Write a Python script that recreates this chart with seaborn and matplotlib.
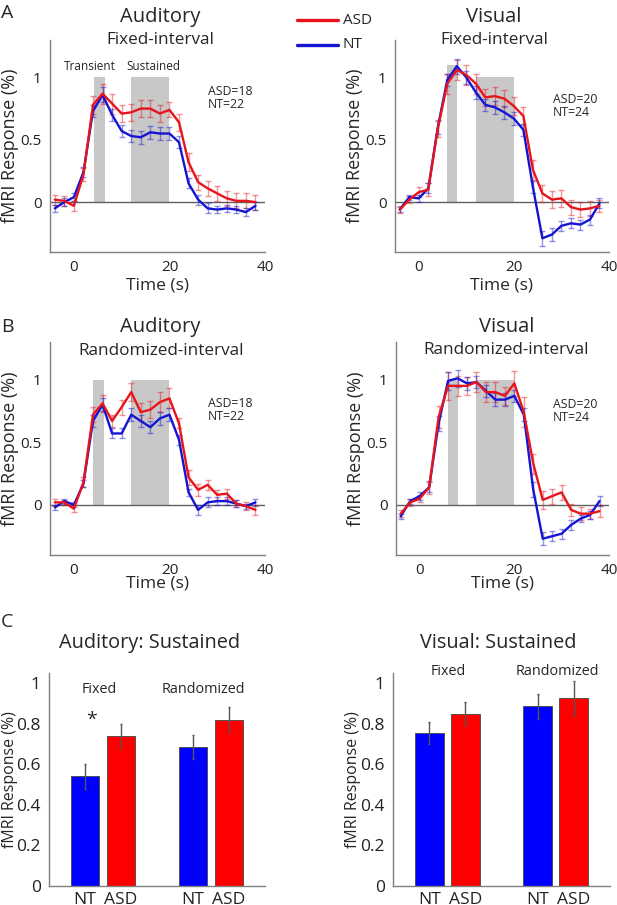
import numpy as np
import pandas as pd
import matplotlib
matplotlib.use("Agg")
import matplotlib.pyplot as plt
import seaborn as sns

# time axis (s)
time = [-4, -2, 0, 2, 4, 6, 8, 10, 12, 14, 16, 18, 20, 22, 24, 26, 28, 30, 32, 34, 36, 38]

# Auditory, fixed interval
aud_fix_asd = [0.02, 0.01, -0.03, 0.22, 0.78, 0.87, 0.79, 0.71, 0.72, 0.75, 0.75, 0.71, 0.74, 0.64, 0.32, 0.16, 0.11, 0.07, 0.03, 0.01, 0.01, 0.00]
aud_fix_nt = [-0.05, 0.00, 0.04, 0.24, 0.73, 0.86, 0.70, 0.57, 0.53, 0.52, 0.56, 0.55, 0.55, 0.48, 0.15, 0.02, -0.05, -0.06, -0.05, -0.06, -0.08, -0.03]
aud_fix_asd_se = [0.04, 0.04, 0.04, 0.05, 0.07, 0.08, 0.08, 0.07, 0.07, 0.07, 0.07, 0.07, 0.06, 0.07, 0.07, 0.06, 0.06, 0.06, 0.06, 0.06, 0.06, 0.06]
aud_fix_nt_se = [0.03, 0.03, 0.03, 0.04, 0.05, 0.06, 0.05, 0.05, 0.05, 0.05, 0.05, 0.05, 0.05, 0.05, 0.04, 0.04, 0.04, 0.03, 0.03, 0.03, 0.03, 0.03]

# Visual, fixed interval
vis_fix_asd = [-0.06, 0.02, 0.08, 0.10, 0.59, 0.95, 1.06, 1.02, 0.95, 0.84, 0.85, 0.83, 0.77, 0.69, 0.26, 0.07, 0.02, 0.03, -0.04, -0.06, -0.05, -0.03]
vis_fix_nt = [-0.06, 0.04, 0.03, 0.11, 0.60, 0.98, 1.09, 1.00, 0.88, 0.78, 0.76, 0.72, 0.67, 0.58, 0.12, -0.29, -0.26, -0.19, -0.17, -0.18, -0.14, -0.01]
vis_fix_asd_se = [0.03, 0.03, 0.04, 0.05, 0.07, 0.08, 0.08, 0.08, 0.08, 0.07, 0.07, 0.07, 0.07, 0.07, 0.08, 0.07, 0.07, 0.07, 0.06, 0.06, 0.06, 0.05]
vis_fix_nt_se = [0.02, 0.02, 0.03, 0.04, 0.05, 0.05, 0.06, 0.05, 0.05, 0.05, 0.05, 0.05, 0.05, 0.05, 0.05, 0.06, 0.05, 0.04, 0.04, 0.04, 0.04, 0.04]

# Auditory, randomized interval
aud_rnd_asd = [0.02, 0.02, -0.03, 0.18, 0.72, 0.81, 0.67, 0.78, 0.90, 0.74, 0.76, 0.82, 0.85, 0.65, 0.22, 0.12, 0.16, 0.08, 0.09, 0.01, -0.01, -0.04]
aud_rnd_nt = [-0.02, 0.03, 0.00, 0.17, 0.67, 0.80, 0.57, 0.57, 0.72, 0.67, 0.62, 0.69, 0.72, 0.52, 0.10, -0.04, 0.02, 0.03, 0.03, 0.01, -0.01, 0.02]
aud_rnd_asd_se = [0.03, 0.02, 0.03, 0.04, 0.06, 0.07, 0.05, 0.06, 0.07, 0.07, 0.07, 0.08, 0.08, 0.04, 0.06, 0.05, 0.04, 0.04, 0.04, 0.03, 0.03, 0.04]
aud_rnd_nt_se = [0.02, 0.02, 0.02, 0.03, 0.05, 0.05, 0.04, 0.04, 0.05, 0.05, 0.05, 0.05, 0.05, 0.04, 0.03, 0.04, 0.04, 0.03, 0.03, 0.03, 0.02, 0.03]

# Visual, randomized interval
vis_rnd_asd = [-0.07, 0.02, 0.05, 0.14, 0.70, 0.95, 0.95, 0.95, 0.98, 0.90, 0.90, 0.87, 0.97, 0.74, 0.33, 0.04, 0.07, 0.10, -0.04, -0.07, -0.07, -0.05]
vis_rnd_nt = [-0.09, 0.03, 0.07, 0.14, 0.65, 0.99, 1.01, 0.97, 0.98, 0.91, 0.84, 0.84, 0.87, 0.72, 0.12, -0.27, -0.25, -0.23, -0.16, -0.11, -0.08, 0.03]
vis_rnd_asd_se = [0.03, 0.03, 0.03, 0.05, 0.09, 0.11, 0.08, 0.07, 0.08, 0.08, 0.08, 0.07, 0.10, 0.12, 0.08, 0.07, 0.06, 0.06, 0.05, 0.05, 0.04, 0.05]
vis_rnd_nt_se = [0.02, 0.02, 0.03, 0.04, 0.06, 0.07, 0.07, 0.05, 0.05, 0.05, 0.05, 0.05, 0.05, 0.05, 0.06, 0.05, 0.04, 0.04, 0.04, 0.03, 0.03, 0.04]

# sustained-period bars (NT, ASD for fixed and randomized)
bar_group = ["NT", "ASD", "NT", "ASD"]
bar_pos = [1, 2, 4, 5]
aud_bar = [0.54, 0.74, 0.685, 0.82]
aud_bar_se = [0.06, 0.06, 0.06, 0.06]
vis_bar = [0.755, 0.85, 0.885, 0.925]
vis_bar_se = [0.055, 0.055, 0.06, 0.085]

RED = "#e8141b"
BLUE = "#1414d2"
W, H = 617, 905

sns.set_theme(style="white")
plt.rcParams["font.family"] = ["Open Sans", "DejaVu Sans"]

fig = plt.figure(figsize=(W / 100, H / 100), dpi=100)


def px_axes(left, top, right, bottom):
    return fig.add_axes([left / W, 1 - bottom / H, (right - left) / W, (bottom - top) / H])


def ftext(x, y, s, **kw):
    fig.text(x / W, 1 - y / H, s, **kw)


def style_axes(ax, tick_size):
    for side in ["top", "right"]:
        ax.spines[side].set_visible(False)
    for side in ["left", "bottom"]:
        ax.spines[side].set_color("#808080")
        ax.spines[side].set_linewidth(1.0)
    ax.tick_params(length=0, labelsize=tick_size, colors="#222222", pad=6)


def place_labels(ax, ylab_x, xlab_y):
    # label centres in pixels relative to the axes box
    bb = ax.get_position()
    ax.yaxis.label.set_verticalalignment("center")
    ax.yaxis.set_label_coords(ylab_x / (bb.width * W), 0.5)
    if xlab_y is not None:
        ax.xaxis.label.set_verticalalignment("center")
        ax.xaxis.set_label_coords(0.5, -xlab_y / (bb.height * H))


def timecourse(ax, asd, asd_se, nt, nt_se, trans, xlab_y):
    t0, t1, th = trans
    ax.fill_between([t0, t1], 0, th, color="#c8c8c8", lw=0, zorder=0)
    ax.fill_between([12, 20], 0, 1.0, color="#c8c8c8", lw=0, zorder=0)
    ax.axhline(0, color="#606060", lw=1.0, zorder=1)
    df = pd.DataFrame({"time": time * 2, "resp": asd + nt,
                       "group": ["ASD"] * len(time) + ["NT"] * len(time)})
    ax.errorbar(time, asd, yerr=asd_se, fmt="none", ecolor=RED, alpha=0.45,
                elinewidth=1, capsize=2, capthick=1, zorder=2)
    ax.errorbar(time, nt, yerr=nt_se, fmt="none", ecolor=BLUE, alpha=0.45,
                elinewidth=1, capsize=2, capthick=1, zorder=2)
    sns.lineplot(data=df, x="time", y="resp", hue="group", hue_order=["NT", "ASD"],
                 palette={"ASD": RED, "NT": BLUE}, lw=1.7, legend=False, ax=ax, zorder=3)
    ax.set_xlim(-5, 40)
    ax.set_ylim(-0.4, 1.3)
    ax.set_xticks([0, 20, 40])
    ax.set_yticks([0, 0.5, 1])
    ax.set_yticklabels(["0", "0.5", "1"])
    style_axes(ax, 11)
    ax.set_xlabel("Time (s)", fontsize=12.5)
    ax.set_ylabel("fMRI Response (%)", fontsize=13)
    place_labels(ax, -40, xlab_y)


def bars(ax, vals, ses, ylab_x):
    df = pd.DataFrame({"pos": bar_pos, "val": vals, "group": bar_group})
    sns.barplot(data=df, x="pos", y="val", hue="group", palette={"ASD": "#ff0000", "NT": "#0000ff"},
                native_scale=True, dodge=False, width=0.8, errorbar=None, legend=False,
                saturation=1, edgecolor="#444444", linewidth=0.6, ax=ax)
    ax.errorbar(bar_pos, vals, yerr=ses, fmt="none", ecolor="#555555", elinewidth=1,
                capsize=1, zorder=4)
    ax.set_xlim(0, 6)
    ax.set_ylim(0, 1.05)
    ax.set_xticks(bar_pos)
    ax.set_xticklabels(bar_group)
    ax.set_yticks([0, 0.2, 0.4, 0.6, 0.8, 1])
    ax.set_yticklabels(["0", "0.2", "0.4", "0.6", "0.8", "1"])
    style_axes(ax, 12.5)
    ax.tick_params(axis="x", pad=4)
    ax.set_xlabel("")
    ax.set_ylabel("fMRI Response (%)", fontsize=11.5)
    place_labels(ax, ylab_x, None)


# row A
axA1 = px_axes(50, 40, 265, 252)
timecourse(axA1, aud_fix_asd, aud_fix_asd_se, aud_fix_nt, aud_fix_nt_se, (4.2, 6.5, 1.0), 33)
axA2 = px_axes(395, 40, 609, 252)
timecourse(axA2, vis_fix_asd, vis_fix_asd_se, vis_fix_nt, vis_fix_nt_se, (5.9, 8.1, 1.1), 33)

# row B
axB1 = px_axes(50, 342, 265, 555)
timecourse(axB1, aud_rnd_asd, aud_rnd_asd_se, aud_rnd_nt, aud_rnd_nt_se, (3.9, 6.2, 1.0), 28)
axB2 = px_axes(396, 342, 609, 555)
timecourse(axB2, vis_rnd_asd, vis_rnd_asd_se, vis_rnd_nt, vis_rnd_nt_se, (5.9, 8.1, 1.0), 28)

# row C
axC1 = px_axes(49, 673, 265, 886)
bars(axC1, aud_bar, aud_bar_se, -39)
axC2 = px_axes(393, 673, 610, 886)
bars(axC2, vis_bar, vis_bar_se, -40)

# titles
ftext(160, 17, "Auditory", fontsize=14.5, ha="center", va="center")
ftext(160, 40, "Fixed-interval", fontsize=12.3, ha="center", va="center")
ftext(494, 17, "Visual", fontsize=14.5, ha="center", va="center")
ftext(494, 40, "Fixed-interval", fontsize=12.3, ha="center", va="center")
ftext(160, 327, "Auditory", fontsize=14.5, ha="center", va="center")
ftext(161, 351, "Randomized-interval", fontsize=12.3, ha="center", va="center")
ftext(507, 327, "Visual", fontsize=14.5, ha="center", va="center")
ftext(506, 350, "Randomized-interval", fontsize=12.3, ha="center", va="center")
ftext(150, 643, "Auditory: Sustained", fontsize=14.3, ha="center", va="center")
ftext(498, 643, "Visual: Sustained", fontsize=14.3, ha="center", va="center")

# panel letters
ftext(1, 13, "A", fontsize=14, ha="left", va="center")
ftext(1, 327, "B", fontsize=14, ha="left", va="center")
ftext(1, 622, "C", fontsize=14, ha="left", va="center")

# period labels and group sizes
ftext(90, 67, "Transient", fontsize=8.5, ha="center", va="center")
ftext(153, 67, "Sustained", fontsize=8.5, ha="center", va="center")
ftext(208, 98, "ASD=18\nNT=22", fontsize=8.8, ha="left", va="center", linespacing=0.95)
ftext(553, 106, "ASD=20\nNT=24", fontsize=8.8, ha="left", va="center", linespacing=0.95)
ftext(208, 410, "ASD=18\nNT=22", fontsize=8.8, ha="left", va="center", linespacing=0.95)
ftext(553, 411, "ASD=20\nNT=24", fontsize=8.8, ha="left", va="center", linespacing=0.95)

# bar panel annotations
ftext(99, 689, "Fixed", fontsize=10.4, ha="center", va="center")
ftext(203, 689, "Randomized", fontsize=10.4, ha="center", va="center")
ftext(92, 720, "*", fontsize=14, ha="center", va="center")
ftext(448, 671, "Fixed", fontsize=10.4, ha="center", va="center")
ftext(557, 671, "Randomized", fontsize=10.4, ha="center", va="center")

# legend
leg_ax = fig.add_axes([0, 0, 1, 1], facecolor="none")
leg_ax.set_axis_off()
leg_ax.set_xlim(0, W)
leg_ax.set_ylim(H, 0)
leg_ax.plot([297, 338], [20, 20], color=RED, lw=2.4)
leg_ax.plot([297, 338], [45, 45], color=BLUE, lw=2.4)
ftext(343, 20, "ASD", fontsize=11, ha="left", va="center")
ftext(343, 45, "NT", fontsize=11, ha="left", va="center")

fig.savefig("out.png", dpi=100)
